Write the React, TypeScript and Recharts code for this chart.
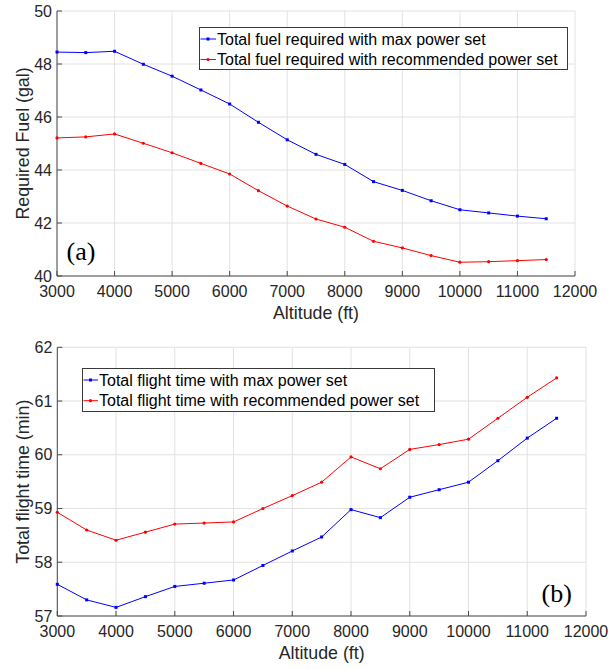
import React from "react";
import { LineChart, Line, XAxis, YAxis, CartesianGrid, Label } from "recharts";

// Altitude sweep (ft)
const altitudes = [3000, 3500, 4000, 4500, 5000, 5500, 6000, 6500, 7000, 7500, 8000, 8500, 9000, 9500, 10000, 10500, 11000, 11500];

// (a) Required fuel (gal)
const fuelMaxPower = [48.45, 48.43, 48.48, 47.99, 47.54, 47.02, 46.49, 45.8, 45.14, 44.59, 44.21, 43.56, 43.23, 42.84, 42.5, 42.38, 42.26, 42.16];
const fuelRecommended = [45.21, 45.25, 45.36, 45.01, 44.65, 44.25, 43.85, 43.22, 42.64, 42.15, 41.84, 41.31, 41.06, 40.77, 40.52, 40.54, 40.58, 40.62];

// (b) Total flight time (min)
const timeMaxPower = [57.59, 57.3, 57.16, 57.36, 57.55, 57.61, 57.67, 57.94, 58.21, 58.47, 58.98, 58.83, 59.21, 59.35, 59.49, 59.89, 60.31, 60.68];
const timeRecommended = [58.93, 58.6, 58.41, 58.56, 58.71, 58.73, 58.75, 59.0, 59.24, 59.49, 59.96, 59.74, 60.1, 60.19, 60.29, 60.68, 61.07, 61.43];

const altitudeTicks = [3000, 4000, 5000, 6000, 7000, 8000, 9000, 10000, 11000, 12000];
const fuelTicks = [40, 42, 44, 46, 48, 50];
const timeTicks = [57, 58, 59, 60, 61, 62];

const fuelData = altitudes.map((alt, i) => ({ alt, max: fuelMaxPower[i], rec: fuelRecommended[i] }));
const timeData = altitudes.map((alt, i) => ({ alt, max: timeMaxPower[i], rec: timeRecommended[i] }));

const FONT = '"Liberation Sans", Arial, sans-serif';
const SERIF = '"Liberation Serif", "Times New Roman", serif';
const AXIS = "#4a4a4a";
const TEXT = "#262626";
const GRID = "#e2e2e2";
const BLUE = "#0000ff";
const RED = "#ff0000";

// MATLAB-style ticks: short mark pointing into the plot, label outside
function XTick({ x, y, payload }: any) {
  return (
    <g>
      <line x1={x} x2={x} y1={y} y2={y - 5} stroke={AXIS} />
      <text x={x} y={y + 21} textAnchor="middle" fontSize={16} fontFamily={FONT} fill={TEXT}>
        {payload.value}
      </text>
    </g>
  );
}

function YTick({ x, y, payload }: any) {
  return (
    <g>
      <line x1={x} x2={x + 5} y1={y} y2={y} stroke={AXIS} />
      <text x={x - 5} y={y + 5.7} textAnchor="end" fontSize={16} fontFamily={FONT} fill={TEXT}>
        {payload.value}
      </text>
    </g>
  );
}

const squareDot = (p: any) => (
  <rect key={`s${p.index}`} x={p.cx - 1.5} y={p.cy - 1.5} width={3} height={3} fill={BLUE} />
);
const roundDot = (p: any) => <circle key={`c${p.index}`} cx={p.cx} cy={p.cy} r={1.6} fill={RED} />;

function xTitle(text: string) {
  return (props: any) => {
    const vb = props.viewBox;
    return (
      <text x={vb.x + vb.width / 2} y={vb.y + 43} textAnchor="middle" fontSize={17.8} fontFamily={FONT} fill={TEXT}>
        {text}
      </text>
    );
  };
}

function yTitle(text: string) {
  return (props: any) => {
    const vb = props.viewBox;
    const cx = vb.x + vb.width - 28.3;
    const cy = vb.y + vb.height / 2;
    return (
      <text x={cx} y={cy} transform={`rotate(-90 ${cx} ${cy})`} textAnchor="middle" fontSize={17.8} fontFamily={FONT} fill={TEXT}>
        {text}
      </text>
    );
  };
}

function LegendBox({ left, top, width, height, textX, rows }: any) {
  return (
    <g transform={`translate(${left} ${top})`}>
      <rect x={0.5} y={0.5} width={width} height={height} fill="#fff" stroke="#3a3a3a" />
      {rows.map((r: any, i: number) => {
        const cy = r.y;
        return (
          <g key={i}>
            <line x1={1.5} x2={textX - 1} y1={cy} y2={cy} stroke={r.color} />
            {r.square ? (
              <rect x={(textX) / 2 - 1.5} y={cy - 1.5} width={3} height={3} fill={r.color} />
            ) : (
              <circle cx={textX / 2} cy={cy} r={1.6} fill={r.color} />
            )}
            <text x={textX} y={cy + 5.7} fontSize={16} fontFamily={FONT} fill="#000">
              {r.label}
            </text>
          </g>
        );
      })}
    </g>
  );
}

export default function App() {
  return (
    <div style={{ position: "absolute", left: 0, top: 0, width: 614, height: 669, background: "#fff" }}>
      <div style={{ position: "absolute", left: 0, top: 0 }}>
        <LineChart width={614} height={335} data={fuelData} margin={{ top: 11, right: 39, left: 10, bottom: 0 }}>
          <CartesianGrid stroke={GRID} />
          <XAxis
            dataKey="alt"
            type="number"
            domain={[3000, 12000]}
            ticks={altitudeTicks}
            interval={0}
            height={59}
            tickSize={0}
            tickMargin={0}
            tickLine={false}
            axisLine={{ stroke: AXIS }}
            tick={<XTick />}
          >
            <Label content={xTitle("Altitude (ft)")} />
          </XAxis>
          <YAxis
            type="number"
            domain={[40, 50]}
            ticks={fuelTicks}
            interval={0}
            width={47}
            tickSize={0}
            tickMargin={0}
            tickLine={false}
            axisLine={{ stroke: AXIS }}
            tick={<YTick />}
          >
            <Label content={yTitle("Required Fuel (gal)")} />
          </YAxis>
          <Line type="linear" dataKey="max" stroke={BLUE} strokeWidth={1} dot={squareDot} activeDot={false} isAnimationActive={false} />
          <Line type="linear" dataKey="rec" stroke={RED} strokeWidth={1} dot={roundDot} activeDot={false} isAnimationActive={false} />
        </LineChart>
      </div>
      <div style={{ position: "absolute", left: 0, top: 335 }}>
        <LineChart width={614} height={334} data={timeData} margin={{ top: 12.3, right: 28, left: 10, bottom: 0 }}>
          <CartesianGrid stroke={GRID} />
          <XAxis
            dataKey="alt"
            type="number"
            domain={[3000, 12000]}
            ticks={altitudeTicks}
            interval={0}
            height={53}
            tickSize={0}
            tickMargin={0}
            tickLine={false}
            axisLine={{ stroke: AXIS }}
            tick={<XTick />}
          >
            <Label content={xTitle("Altitude (ft)")} />
          </XAxis>
          <YAxis
            type="number"
            domain={[57, 62]}
            ticks={timeTicks}
            interval={0}
            width={47.3}
            tickSize={0}
            tickMargin={0}
            tickLine={false}
            axisLine={{ stroke: AXIS }}
            tick={<YTick />}
          >
            <Label content={yTitle("Total flight time (min)")} />
          </YAxis>
          <Line type="linear" dataKey="max" stroke={BLUE} strokeWidth={1} dot={squareDot} activeDot={false} isAnimationActive={false} />
          <Line type="linear" dataKey="rec" stroke={RED} strokeWidth={1} dot={roundDot} activeDot={false} isAnimationActive={false} />
        </LineChart>
      </div>
      <svg width={614} height={669} style={{ position: "absolute", left: 0, top: 0, pointerEvents: "none" }}>
        <LegendBox
          left={199}
          top={27}
          width={368}
          height={42}
          textX={18}
          rows={[
            { y: 12, color: BLUE, square: true, label: "Total fuel required with max power set" },
            { y: 32.5, color: RED, square: false, label: "Total fuel required with recommended power set" },
          ]}
        />
        <LegendBox
          left={82}
          top={368}
          width={352}
          height={43}
          textX={17}
          rows={[
            { y: 12, color: BLUE, square: true, label: "Total flight time with max power set" },
            { y: 32.7, color: RED, square: false, label: "Total flight time with recommended power set" },
          ]}
        />
        <text x={66.5} y={260} fontSize={26} fontFamily={SERIF} fill="#000">(a)</text>
        <text x={541.5} y={602} fontSize={26} fontFamily={SERIF} fill="#000">(b)</text>
      </svg>
    </div>
  );
}
